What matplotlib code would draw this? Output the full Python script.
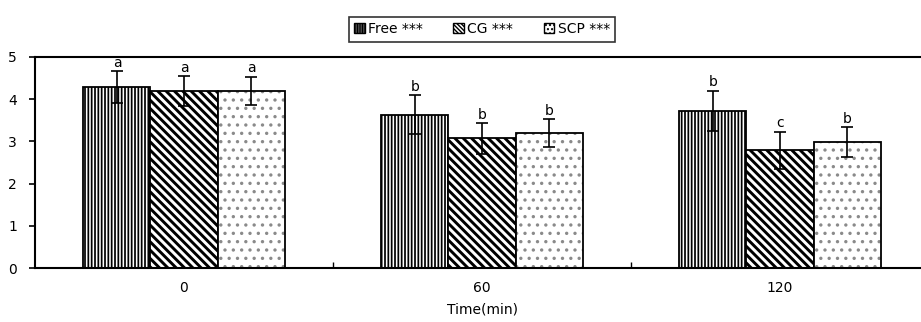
import matplotlib.pyplot as plt
import numpy as np

plt.rcParams['font.family'] = ['DejaVu Sans']
plt.rcParams['font.size'] = 10

times = ["0", "60", "120"]
series = ["Free ***", "CG ***", "SCP ***"]
hatches = ["|||||", "\\\\\\\\", ".."]
hatch_colors = ["black", "black", "#8a8a8a"]

free_mean = [4.29, 3.63, 3.72]
free_err = [0.37, 0.46, 0.48]
cg_mean = [4.19, 3.07, 2.79]
cg_err = [0.35, 0.36, 0.44]
scp_mean = [4.20, 3.20, 2.98]
scp_err = [0.33, 0.33, 0.35]

free_letters = ["a", "b", "b"]
cg_letters = ["a", "b", "c"]
scp_letters = ["a", "b", "b"]

means = [free_mean, cg_mean, scp_mean]
errs = [free_err, cg_err, scp_err]
letters = [free_letters, cg_letters, scp_letters]

fig = plt.figure(figsize=(9.21, 3.22), dpi=100)
ax = fig.add_axes([35/921, 54/322, 894/921, 211/322])

x = np.arange(len(times))
w = 0.225
for i in range(3):
    pos = x + (i - 1) * w
    # hatch fill first, black outline on top
    bars = ax.bar(pos, means[i], w, color="white", edgecolor=hatch_colors[i],
                  linewidth=0, hatch=hatches[i])
    for b in bars:
        if hasattr(b, "set_hatch_linewidth"):
            b.set_hatch_linewidth([1.25, 2.1, 1.2][i])
    ax.bar(pos, means[i], w, color="none", edgecolor="black", linewidth=1.3)
    ax.errorbar(pos, means[i], yerr=errs[i], fmt="none", ecolor="black",
                elinewidth=1.2, capsize=4.5, capthick=1.2)
    for p, m, e, t in zip(pos, means[i], errs[i], letters[i]):
        ax.annotate(t, (p, m + e), xytext=(0, 1), textcoords="offset points",
                    ha="center", va="bottom", fontsize=10)

# legend handles: small dark squares
handles = []
for i in range(3):
    h = plt.Rectangle((0, 0), 1, 1, facecolor="white", edgecolor="black",
                      hatch=hatches[i] * 2, linewidth=1.0)
    handles.append(h)

ax.set_xlim(-0.5, 2.5)
ax.set_ylim(0, 5)
ax.set_yticks(range(6))
ax.set_xticks(x)
ax.set_xticklabels(times)
ax.set_xticks([0.5, 1.5], minor=True)
ax.tick_params(axis="x", which="major", length=0, pad=9)
ax.tick_params(axis="x", which="minor", direction="in", length=4, width=1)
ax.tick_params(axis="y", direction="out", length=4, width=1.2, pad=9)
for s in ax.spines.values():
    s.set_linewidth(1.5)
ax.set_xlabel("Time(min)", labelpad=6)

leg = ax.legend(handles, series, loc="lower center", bbox_to_anchor=(0.5, 1.04),
                ncol=3, frameon=True, fancybox=False, edgecolor="black",
                handlelength=0.75, handleheight=0.75, handletextpad=0.25,
                columnspacing=2.2, borderpad=0.4, fontsize=10)
leg.get_frame().set_linewidth(1.2)

fig.savefig("out.png", dpi=100)
